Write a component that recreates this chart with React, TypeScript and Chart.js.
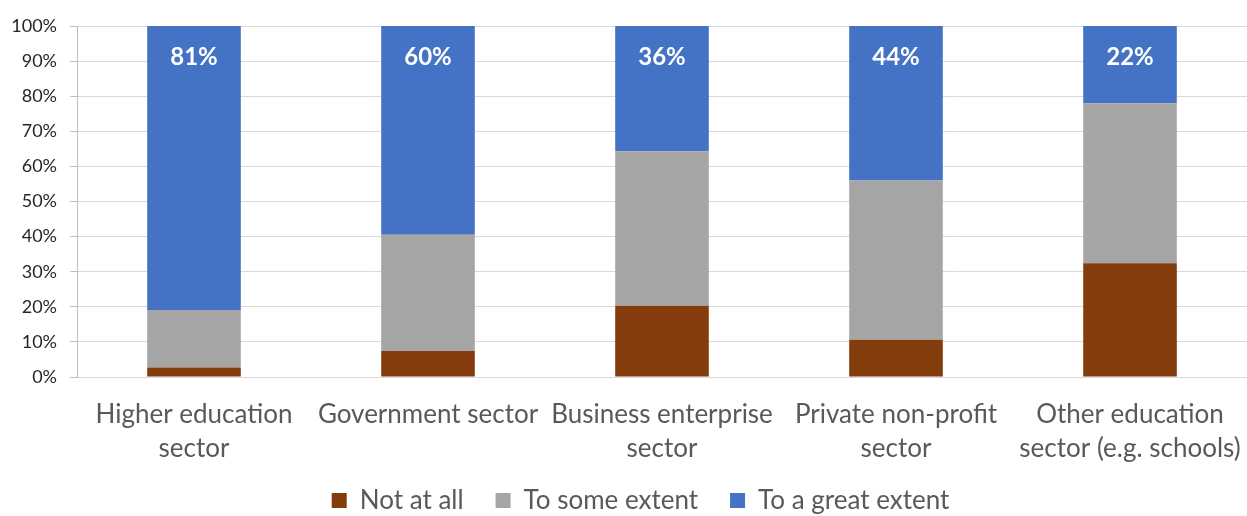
import React, { useEffect, useRef } from "react";
import { Chart, registerables } from "chart.js";

Chart.register(...registerables);

const categories: string[][] = [
  ["Higher education", "sector"],
  ["Government sector"],
  ["Business enterprise", "sector"],
  ["Private non-profit", "sector"],
  ["Other education", "sector (e.g. schools)"],
];

const notAtAll: number[] = [2.7, 7.4, 20.3, 10.6, 32.4];
const toSomeExtent: number[] = [16.4, 33.1, 44.0, 45.4, 45.6];
const toGreatExtent: number[] = [80.9, 59.5, 35.7, 44.0, 22.0];
const greatLabels: string[] = ["81%", "60%", "36%", "44%", "22%"];

const yTicks: number[] = [0, 10, 20, 30, 40, 50, 60, 70, 80, 90, 100];

const FONT = "Lato";
const LEGEND_PAD = 32;
const LEGEND_FONT = 26;

const labelPlugin = {
  id: "greatLabels",
  afterDatasetsDraw(chart: any) {
    const meta = chart.getDatasetMeta(2);
    const ctx = chart.ctx;
    ctx.save();
    ctx.fillStyle = "#ffffff";
    ctx.font = `bold 24px ${FONT}`;
    ctx.textAlign = "center";
    ctx.textBaseline = "middle";
    meta.data.forEach((bar: any, i: number) => {
      ctx.fillText(greatLabels[i], bar.x, bar.y + 31);
    });
    ctx.restore();
  },
};

// place the legend row (centred like the reference) below the axis labels
const legendPlacePlugin = {
  id: "legendPlace",
  afterLayout(chart: any) {
    const lg = chart.legend;
    if (!lg) return;
    const itemHeight = Math.max(15, LEGEND_FONT * 1.2);
    lg.left = 34;
    lg.top = 503 - LEGEND_PAD - itemHeight / 2;
  },
};

export default function App() {
  const ref = useRef<HTMLCanvasElement>(null);
  useEffect(() => {
    if (!ref.current) return;
    const chart = new Chart(ref.current, {
      type: "bar",
      data: {
        labels: categories,
        datasets: [
          { label: "Not at all", data: notAtAll, backgroundColor: "#843C0C" },
          { label: "To some extent", data: toSomeExtent, backgroundColor: "#A5A5A5" },
          { label: "To a great extent", data: toGreatExtent, backgroundColor: "#4472C4" },
        ],
      },
      options: {
        animation: false,
        responsive: false,
        maintainAspectRatio: false,
        layout: { padding: { left: 0, right: 0, top: 26, bottom: 0 } },
        datasets: { bar: { barPercentage: 0.4, categoryPercentage: 1 } },
        plugins: {
          tooltip: { enabled: false },
          legend: {
            position: "bottom",
            maxHeight: 44,
            labels: {
              font: { family: FONT, size: LEGEND_FONT },
              color: "#595959",
              boxWidth: 15,
              boxHeight: 15,
              padding: LEGEND_PAD,
            },
          },
        },
        scales: {
          x: {
            stacked: true,
            grid: { display: false },
            border: { display: true, color: "#d9d9d9", width: 1 },
            ticks: {
              font: { family: FONT, size: 26, lineHeight: 1.31 },
              color: "#595959",
              padding: 13,
              maxRotation: 0,
              autoSkip: false,
            },
            afterFit: (s: any) => {
              s.height = 95;
              s.paddingLeft = 0;
              s.paddingRight = 0;
            },
          },
          y: {
            stacked: true,
            min: 0,
            max: 100,
            afterBuildTicks: (s: any) => {
              s.ticks = yTicks.map((v) => ({ value: v }));
            },
            grid: { color: "#d9d9d9", tickColor: "#bfbfbf", tickLength: 7, lineWidth: 1 },
            border: { display: true, color: "#bfbfbf", width: 1 },
            ticks: {
              font: { family: FONT, size: 18 },
              color: "#262626",
              padding: 13,
              callback: (v: any) => `${v}%`,
            },
            afterFit: (s: any) => {
              s.width = 77;
            },
          },
        },
      },
      plugins: [labelPlugin, legendPlacePlugin],
    });
    return () => chart.destroy();
  }, []);
  return (
    <div style={{ position: "absolute", left: 0, top: 0, width: 1247, height: 516 }}>
      <canvas ref={ref} width={1247} height={516} />
    </div>
  );
}
